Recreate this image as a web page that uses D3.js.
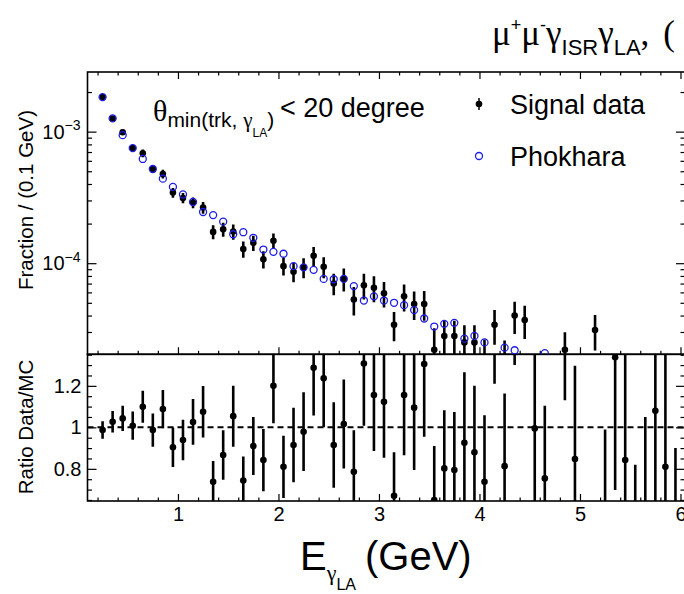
<!DOCTYPE html>
<html>
<head>
<meta charset="utf-8">
<script src="https://cdn.jsdelivr.net/npm/d3@7"></script>
<style>
  body { margin: 0; background: #fff; }
  svg { display: block; font-family: "Liberation Sans", Arial, sans-serif; }
  .tick line { stroke: #000; stroke-width: 1.2; }
</style>
</head>
<body>
<svg id="chart" width="684" height="594"></svg>
<script>
// bin centres, 0.1 GeV bins
const binCenters = [0.25, 0.35, 0.45, 0.55, 0.65, 0.75, 0.85, 0.95, 1.05, 1.15,
  1.25, 1.35, 1.45, 1.55, 1.65, 1.75, 1.85, 1.95, 2.05, 2.15,
  2.25, 2.35, 2.45, 2.55, 2.65, 2.75, 2.85, 2.95, 3.05, 3.15,
  3.25, 3.35, 3.45, 3.55, 3.65, 3.75, 3.85, 3.95, 4.05, 4.15,
  4.25, 4.35, 4.45, 4.55, 4.65, 4.75, 4.85, 4.95, 5.05, 5.15,
  5.25, 5.35, 5.45, 5.55, 5.65, 5.75, 5.85, 5.95];

const signalData = [1.83e-3, 1.26e-3, 9.9e-4, 7.5e-4, 6.85e-4, 5.2e-4, 4.77e-4, 3.44e-4, 3.13e-4, 2.89e-4,
  2.65e-4, 1.73e-4, 1.81e-4, 1.74e-4, 1.28e-4, 1.43e-4, 1.07e-4, 1.48e-4, 9.5e-5, 8.6e-5,
  9.3e-5, 1.14e-4, 9.4e-5, 7.0e-5, 7.6e-5, 5.3e-5, 6.8e-5, 6.5e-5, 5.9e-5, 3.4e-5,
  5.6e-5, 4.9e-5, 4.9e-5, 2.2e-5, 2.8e-5, 2.8e-5, 2.5e-5, 2.5e-5, 1.85e-5, 3.4e-5,
  1.85e-5, 4.0e-5, 3.7e-5, null, null, null, 2.2e-5, null, null, 3.1e-5,
  null, null, null, null, null, null, null, null];

const signalErr = [4.6e-5, 3.8e-5, 4.5e-5, 3.8e-5, 4.5e-5, 3.6e-5, 3.6e-5, 2.9e-5, 2.8e-5, 2.7e-5,
  2.7e-5, 2.1e-5, 2.2e-5, 2.3e-5, 1.8e-5, 1.9e-5, 1.6e-5, 2.0e-5, 1.45e-5, 1.45e-5,
  1.6e-5, 1.9e-5, 1.7e-5, 1.3e-5, 1.5e-5, 1.3e-5, 1.5e-5, 1.45e-5, 1.3e-5, 8.5e-6,
  1.3e-5, 1.2e-5, 1.25e-5, 1.0e-5, 8.5e-6, 8.5e-6, 8.7e-6, 8.7e-6, 7.8e-6, 1.0e-5,
  7.4e-6, 1.1e-5, 1.05e-5, null, null, null, 7.9e-6, null, null, 9.3e-6,
  null, null, null, null, null, null, null, null];

const phokhara = [1.83e-3, 1.26e-3, 9.4e-4, 7.5e-4, 6.2e-4, 5.2e-4, 4.39e-4, 3.8e-4, 3.33e-4, 2.92e-4,
  2.45e-4, 2.32e-4, 2.07e-4, 1.66e-4, 1.72e-4, 1.56e-4, 1.27e-4, 1.22e-4, 1.18e-4, 9.5e-5,
  9.3e-5, 8.9e-5, 7.6e-5, 7.55e-5, 7.6e-5, 6.7e-5, 5.2e-5, 5.6e-5, 5.2e-5, 5.0e-5,
  4.8e-5, 4.4e-5, 3.8e-5, 3.3e-5, 3.46e-5, 3.52e-5, 2.67e-5, 2.8e-5, 2.5e-5, null,
  2.28e-5, 2.18e-5, null, null, 2.07e-5, null, null, null, null, null,
  null, null, null, null, null, null, null, null];

const ratioVal = [0.987, 1.027, 1.043, 1.008, 1.099, 0.987, 1.088, 0.904, 0.939, 1.026,
  1.075, 0.738, 0.867, 1.054, 0.744, 0.91, 0.842, 1.2, 0.81, 0.915,
  0.979, 1.287, 1.236, 0.915, 1.016, 0.786, 1.308, 1.156, 1.123, 0.67,
  1.156, 1.095, 1.305, 0.65, 0.802, 0.794, 0.926, 0.88, 0.738, 1.55,
  0.813, 1.84, null, 0.995, 0.754, null, 1.65, 0.847, null, null,
  0.55, 1.338, 0.842, 0.5, 0.55, 1.08, 0.81, 0.5];

const ratioErr = [0.042, 0.052, 0.061, 0.068, 0.077, 0.08, 0.092, 0.095, 0.098, 0.11,
  0.124, 0.1, 0.119, 0.147, 0.115, 0.14, 0.15, 0.18, 0.15, 0.18,
  0.19, 0.23, 0.236, 0.206, 0.214, 0.2, 0.3, 0.27, 0.27, 0.21,
  0.29, 0.3, 0.35, 0.26, 0.28, 0.28, 0.34, 0.32, 0.32, 0.34,
  0.35, 0.54, null, 0.45, 0.35, null, 0.52, 0.45, null, null,
  0.44, 0.64, 0.6, 0.32, 0.5, 0.5, 0.6, 0.4];

const xTicks = [1, 2, 3, 4, 5, 6];
const yTopTicks = [1e-4, 1e-3];
const yRatioTicks = [0.8, 1, 1.2];
const yRatioTickLabels = ["0.8", "1", "1.2"];

const pLeft = 87.5, pRight = 685, pTop = 72, pMid = 354.3, pBottom = 501;
const svg = d3.select('#chart');
svg.append('rect').attr('width', 684).attr('height', 594).attr('fill', '#fff');

const x = d3.scaleLinear().domain([0.1, 6.045]).range([pLeft, pRight]);
const yTop = d3.scaleLog().domain([2.03e-5, 2.84e-3]).range([pMid, pTop]);
const yRat = d3.scaleLinear().domain([0.645, 1.352]).range([pBottom, pMid]);

const defs = svg.append('defs');
defs.append('clipPath').attr('id', 'clipTop').append('rect')
  .attr('x', pLeft).attr('y', pTop).attr('width', pRight - pLeft).attr('height', pMid - pTop);
defs.append('clipPath').attr('id', 'clipRat').append('rect')
  .attr('x', pLeft).attr('y', pMid).attr('width', pRight - pLeft).attr('height', pBottom - pMid);

// minor tick values
const xMinor = d3.range(0.2, 6.05, 0.2).filter(v => Math.abs(v - Math.round(v)) > 0.01);
const yTopMinor = yTop.ticks().filter(v => yTopTicks.indexOf(v) < 0);
const yRatMinor = d3.range(0.65, 1.36, 0.05).filter(v => yRatioTicks.every(t => Math.abs(t - v) > 0.01));

function tickAxis(axis, tr, vals, size) {
  const g = svg.append('g').attr('transform', tr)
    .call(axis.tickValues(vals).tickSizeInner(size).tickSizeOuter(0).tickFormat(''));
  g.select('.domain').remove();
  return g;
}

// top panel ticks
const gTopL = tickAxis(d3.axisLeft(yTop).tickPadding(7), `translate(${pLeft},0)`, yTopTicks, -9);
tickAxis(d3.axisLeft(yTop), `translate(${pLeft},0)`, yTopMinor, -4.5);
tickAxis(d3.axisRight(yTop), `translate(${pRight},0)`, yTopTicks, -9);
tickAxis(d3.axisRight(yTop), `translate(${pRight},0)`, yTopMinor, -4.5);
tickAxis(d3.axisTop(x), `translate(0,${pTop})`, xTicks, -7);
tickAxis(d3.axisTop(x), `translate(0,${pTop})`, xMinor, -3.5);
tickAxis(d3.axisBottom(x), `translate(0,${pMid})`, xTicks, -7);
tickAxis(d3.axisBottom(x), `translate(0,${pMid})`, xMinor, -3.5);

gTopL.selectAll('.tick text').attr('font-size', 20).attr('fill', '#000').each(function(d) {
  const t = d3.select(this);
  t.append('tspan').text('10');
  t.append('tspan').attr('dy', '-0.6em').attr('font-size', 14).text('\u2212' + Math.round(-Math.log10(d)));
});

// ratio panel ticks
const gRatL = tickAxis(d3.axisLeft(yRat).tickPadding(6), `translate(${pLeft},0)`, yRatioTicks, -9);
tickAxis(d3.axisLeft(yRat), `translate(${pLeft},0)`, yRatMinor, -4.5);
tickAxis(d3.axisRight(yRat), `translate(${pRight},0)`, yRatioTicks, -9);
tickAxis(d3.axisRight(yRat), `translate(${pRight},0)`, yRatMinor, -4.5);
gRatL.selectAll('.tick text').attr('font-size', 20).attr('fill', '#000')
  .text((d, i) => yRatioTickLabels[i]);

const gX = tickAxis(d3.axisBottom(x).tickPadding(6), `translate(0,${pBottom})`, xTicks, -7);
tickAxis(d3.axisBottom(x), `translate(0,${pBottom})`, xMinor, -3.5);
gX.selectAll('.tick text').attr('font-size', 20).attr('fill', '#000').text(d => d);

// frames
svg.append('rect').attr('x', pLeft).attr('y', pTop).attr('width', pRight - pLeft).attr('height', pMid - pTop)
  .attr('fill', 'none').attr('stroke', '#000').attr('stroke-width', 1.6);
svg.append('rect').attr('x', pLeft).attr('y', pMid).attr('width', pRight - pLeft).attr('height', pBottom - pMid)
  .attr('fill', 'none').attr('stroke', '#000').attr('stroke-width', 1.6);

// top panel data
const sig = binCenters.map((c, i) => ({ c, v: signalData[i], e: signalErr[i] })).filter(d => d.v != null);
const mc = binCenters.map((c, i) => ({ c, v: phokhara[i] })).filter(d => d.v != null);
const gT = svg.append('g').attr('clip-path', 'url(#clipTop)');
gT.selectAll('line.err').data(sig).enter().append('line')
  .attr('x1', d => x(d.c)).attr('x2', d => x(d.c))
  .attr('y1', d => yTop(d.v + d.e)).attr('y2', d => yTop(d.v - d.e))
  .attr('stroke', '#000').attr('stroke-width', 2.6);
gT.selectAll('circle.sig').data(sig).enter().append('circle')
  .attr('cx', d => x(d.c)).attr('cy', d => yTop(d.v)).attr('r', 3.3).attr('fill', '#000');
gT.selectAll('circle.mc').data(mc).enter().append('circle')
  .attr('cx', d => x(d.c)).attr('cy', d => yTop(d.v)).attr('r', 3.5)
  .attr('fill', 'none').attr('stroke', '#1c1ce6').attr('stroke-width', 1.3);

// ratio panel
const rat = binCenters.map((c, i) => ({ c, v: ratioVal[i], e: ratioErr[i] })).filter(d => d.v != null);
const gR = svg.append('g').attr('clip-path', 'url(#clipRat)');
gR.append('line').attr('x1', pLeft).attr('x2', pRight).attr('y1', yRat(1)).attr('y2', yRat(1))
  .attr('stroke', '#000').attr('stroke-width', 2).attr('stroke-dasharray', '6,4');
gR.selectAll('line.err').data(rat).enter().append('line')
  .attr('x1', d => x(d.c)).attr('x2', d => x(d.c))
  .attr('y1', d => yRat(d.v + d.e)).attr('y2', d => yRat(d.v - d.e))
  .attr('stroke', '#000').attr('stroke-width', 2.6);
gR.selectAll('circle').data(rat).enter().append('circle')
  .attr('cx', d => x(d.c)).attr('cy', d => yRat(d.v)).attr('r', 3.3).attr('fill', '#000');

// axis titles
svg.append('text').attr('transform', 'translate(33,200) rotate(-90)').attr('text-anchor', 'middle')
  .attr('font-size', 20.5).text('Fraction / (0.1 GeV)');
svg.append('text').attr('transform', 'translate(33,427) rotate(-90)').attr('text-anchor', 'middle')
  .attr('font-size', 20.5).text('Ratio Data/MC');

const xt = svg.append('text').attr('x', 300).attr('y', 570).attr('font-size', 40);
xt.append('tspan').text('E');
xt.append('tspan').attr('font-family', 'Liberation Serif').attr('font-size', 22).attr('dy', 10).text('\u03b3');
xt.append('tspan').attr('font-size', 16).attr('dy', 10).text('LA');
xt.append('tspan').attr('dx', 9).attr('dy', -20).text('(GeV)');

// legend
const th = svg.append('text').attr('x', 153).attr('y', 121).attr('font-size', 21);
th.append('tspan').attr('font-family', 'Liberation Serif').attr('font-size', 30).text('\u03b8');
th.append('tspan').attr('dy', 6).text('min(trk, ');
th.append('tspan').attr('font-family', 'Liberation Serif').text('\u03b3');
th.append('tspan').attr('font-size', 12).attr('dy', 10).text('LA');
th.append('tspan').attr('dy', -10).text(')');
svg.append('text').attr('x', 280).attr('y', 117).attr('font-size', 27).text('< 20 degree');

svg.append('line').attr('x1', 479).attr('x2', 479).attr('y1', 98).attr('y2', 110)
  .attr('stroke', '#000').attr('stroke-width', 1.5);
svg.append('circle').attr('cx', 479).attr('cy', 104).attr('r', 3.3).attr('fill', '#000');
svg.append('text').attr('x', 510).attr('y', 114).attr('font-size', 27).text('Signal data');
svg.append('circle').attr('cx', 479).attr('cy', 156).attr('r', 3.5)
  .attr('fill', 'none').attr('stroke', '#1c1ce6').attr('stroke-width', 1.3);
svg.append('text').attr('x', 510).attr('y', 166).attr('font-size', 27).text('Phokhara');

// title (cut off at the right edge)
const tt = svg.append('text').attr('x', 492).attr('y', 45).attr('font-size', 35).attr('font-family', 'Liberation Serif');
tt.append('tspan').text('\u03bc');
tt.append('tspan').attr('font-family', 'Liberation Sans').attr('font-size', 18).attr('dy', -14).text('+');
tt.append('tspan').attr('dy', 14).text('\u03bc');
tt.append('tspan').attr('font-family', 'Liberation Sans').attr('font-size', 18).attr('dy', -14).text('-');
tt.append('tspan').attr('dy', 14).text('\u03b3');
tt.append('tspan').attr('font-family', 'Liberation Sans').attr('font-size', 22).attr('dy', 10).text('ISR');
tt.append('tspan').attr('dy', -10).text('\u03b3');
tt.append('tspan').attr('font-family', 'Liberation Sans').attr('font-size', 22).attr('dy', 10).text('LA');
tt.append('tspan').attr('dy', -10).text(',');
tt.append('tspan').attr('dx', 14).text('(');
</script>
</body>
</html>
